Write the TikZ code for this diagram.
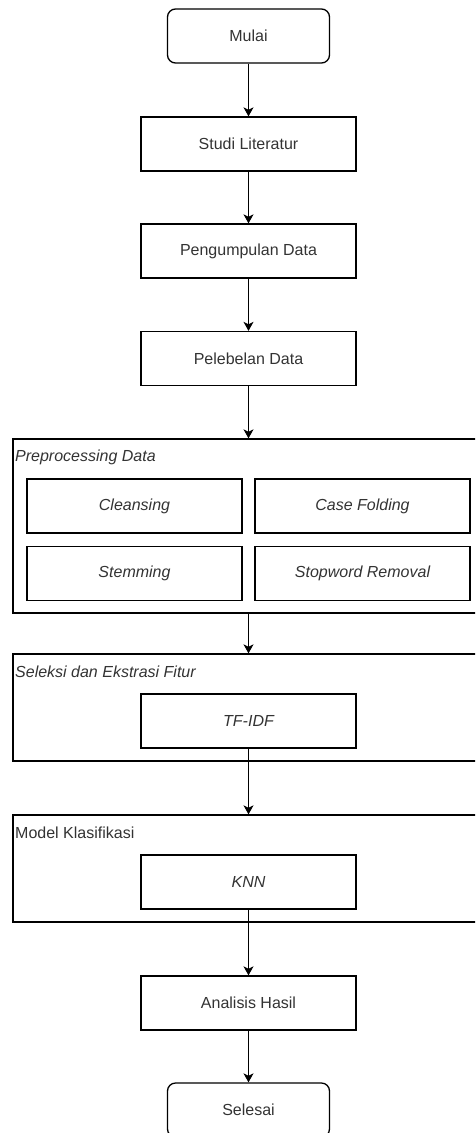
\documentclass[tikz,border=0pt]{standalone}
\usepackage{fontspec}
\setmainfont{Liberation Sans}
\usepackage{tikz}
\usetikzlibrary{arrows.meta}

\definecolor{teks}{HTML}{333333}

\tikzset{
  langkah/.style={draw, line width=1.3pt, minimum width=215pt, minimum height=54pt, inner sep=0pt, text=teks},
  terminal/.style={langkah, minimum width=162pt, rounded corners=8pt},
  kelompok/.style={draw, line width=1.3pt, minimum width=471pt, inner sep=0pt},
  judul/.style={anchor=west, inner sep=0pt, text=teks},
  panah/.style={-{Stealth[length=9pt,width=10pt,inset=2.5pt]}, line width=1.3pt}
}

\begin{document}
\begin{tikzpicture}[x=1pt,y=-1pt,font=\fontsize{16}{19}\selectfont]
    \useasboundingbox (0,0) rectangle (475,1133);
    \clip (0,0) rectangle (475,1133);

    % alur utama
    \node[terminal] (mulai) at (248.5,36) {Mulai};
    \node[langkah] (studi) at (248.5,144) {Studi Literatur};
    \node[langkah] (kumpul) at (248.5,251) {Pengumpulan Data};
    \node[langkah] (label) at (248.5,358.5) {Pelebelan Data};

    % preprocessing
    \node[kelompok, minimum height=174pt] (prepro) at (248.5,526) {};
    \node[judul] (tprepro) at (15,457) {\itshape Preprocessing Data};
    \node[langkah] (cleansing) at (134.5,506) {\itshape Cleansing};
    \node[langkah] (folding) at (362.5,506) {\itshape Case Folding};
    \node[langkah] (stemming) at (134.5,573.5) {\itshape Stemming};
    \node[langkah] (stopword) at (362.5,573.5) {\itshape Stopword Removal};

    % seleksi fitur
    \node[kelompok, minimum height=107pt] (seleksi) at (248.5,707.5) {};
    \node[judul] (tseleksi) at (15,672) {\itshape Seleksi dan Ekstrasi Fitur};
    \node[langkah] (tfidf) at (248.5,721) {\itshape TF-IDF};

    % klasifikasi
    \node[kelompok, minimum height=107pt] (model) at (248.5,868.5) {};
    \node[judul] (tmodel) at (15,833) {Model Klasifikasi};
    \node[langkah] (knn) at (248.5,882) {\itshape KNN};

    \node[langkah] (analisis) at (248.5,1003) {Analisis Hasil};
    \node[terminal] (selesai) at (248.5,1110) {Selesai};

    % panah
    \draw[panah] (mulai) -- (studi);
    \draw[panah] (studi) -- (kumpul);
    \draw[panah] (kumpul) -- (label);
    \draw[panah] (label) -- (prepro.north);
    \draw[panah] (prepro.south) -- (seleksi.north);
    \draw[panah] (tfidf) -- (model.north);
    \draw[panah] (knn) -- (analisis);
    \draw[panah] (analisis) -- (selesai);
\end{tikzpicture}
\end{document}
